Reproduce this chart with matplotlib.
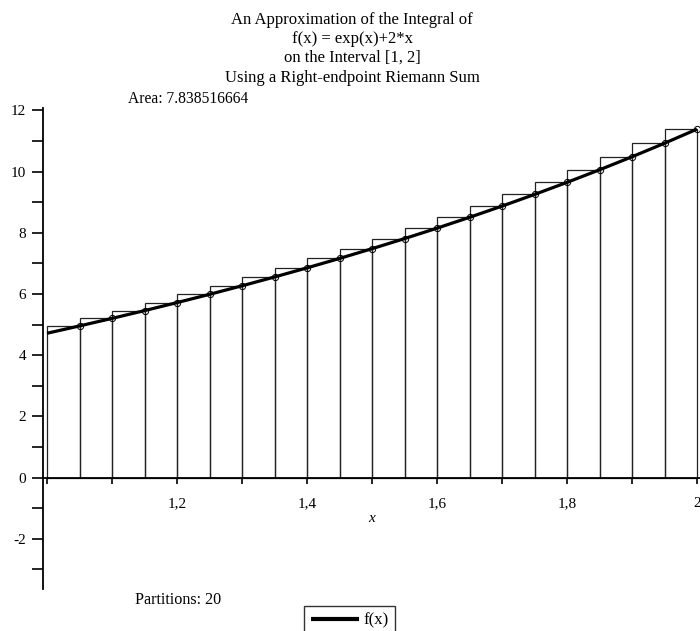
import matplotlib
matplotlib.use("Agg")
import matplotlib.pyplot as plt
from matplotlib.ticker import MultipleLocator, FixedLocator, FixedFormatter

# right endpoints and f(x) = exp(x)+2*x there
x_right = [1.05, 1.10, 1.15, 1.20, 1.25, 1.30, 1.35, 1.40, 1.45, 1.50,
           1.55, 1.60, 1.65, 1.70, 1.75, 1.80, 1.85, 1.90, 1.95, 2.00]
f_right = [4.9577, 5.2042, 5.4582, 5.7201, 5.9903, 6.2693, 6.5574, 6.8552,
           7.1631, 7.4817, 7.8115, 8.1530, 8.5070, 8.8739, 9.2546, 9.6496,
           10.0598, 10.4859, 10.9287, 11.3891]
x_start = 1.0
f_start = 4.7183
bar_width = 0.05

x_ticks = [1.2, 1.4, 1.6, 1.8, 2.0]
x_tick_labels = ["1,2", "1,4", "1,6", "1,8", "2"]
y_ticks = [-2, 0, 2, 4, 6, 8, 10, 12]
y_tick_labels = ["-2", "0", "2", "4", "6", "8", "10", "12"]

title_lines = ["An Approximation of the Integral of",
               "f(x) = exp(x)+2*x",
               "on the Interval [1, 2]",
               "Using a Right-endpoint Riemann Sum"]
area_text = "Area: 7.838516664"
partitions_text = "Partitions: 20"

W, H = 700, 631
plt.rcParams['font.family'] = ['Liberation Serif', 'DejaVu Serif']
fs = 11

fig = plt.figure(figsize=(W / 100, H / 100), dpi=100)
ax = fig.add_axes([43 / W, 1 - 589 / H, (W - 43) / W, 481 / H])
ax.set_xlim(0.9938, 2.0046)
ax.set_ylim(-3.64, 12.08)

# rectangles
ax.bar(x_right, f_right, width=-bar_width, align='edge', facecolor='none',
       edgecolor='#222222', linewidth=0.9, zorder=2)

# curve and points
ax.plot([x_start] + x_right, [f_start] + f_right, color='black', linewidth=2.3,
        solid_capstyle='butt', zorder=3, label='f(x)')
ax.plot(x_right, f_right, linestyle='none', marker='o', markersize=4.5,
        markerfacecolor='none', markeredgecolor='black', markeredgewidth=0.7,
        zorder=4)

# maple style axes
for s in ['top', 'right']:
    ax.spines[s].set_visible(False)
ax.spines['bottom'].set_position(('data', 0))
ax.spines['left'].set_linewidth(1.3)
ax.spines['bottom'].set_linewidth(1.3)

ax.xaxis.set_major_locator(FixedLocator(x_ticks))
ax.xaxis.set_major_formatter(FixedFormatter(x_tick_labels))
ax.xaxis.set_minor_locator(MultipleLocator(0.1))
ax.yaxis.set_major_locator(FixedLocator(y_ticks))
ax.yaxis.set_major_formatter(FixedFormatter(y_tick_labels))
ax.yaxis.set_minor_locator(MultipleLocator(1))
ax.tick_params(axis='x', which='both', direction='out', length=4, width=1.2,
               labelsize=fs, pad=10)
ax.tick_params(axis='y', which='both', direction='out', length=8, width=1.2,
               labelsize=fs, pad=4)
for lab in ax.get_xticklabels():
    lab.set_clip_on(False)

fig.text(372 / W, 1 - 518 / H, "x", fontsize=fs, style='italic',
         ha='center', va='center')

# titles
title_y = [20, 39, 58, 78]
for line, ty in zip(title_lines, title_y):
    fig.text(352 / W, 1 - ty / H, line, fontsize=12, ha='center', va='center')
fig.text(128 / W, 1 - 99 / H, area_text, fontsize=fs + 0.2, ha='left',
         va='center')
fig.text(135 / W, 1 - 600 / H, partitions_text, fontsize=11.6, ha='left',
         va='center')

leg = fig.legend(loc='upper left', bbox_to_anchor=(304 / W, 1 - 606 / H),
                 frameon=True, fancybox=False, fontsize=fs + 1,
                 handlelength=2.9, borderpad=0.4, handletextpad=0.25,
                 borderaxespad=0)
leg.get_frame().set_edgecolor('black')
leg.get_frame().set_linewidth(1.0)
for h in leg.get_lines():
    h.set_linewidth(3.0)

fig.savefig("out.png", dpi=100)
